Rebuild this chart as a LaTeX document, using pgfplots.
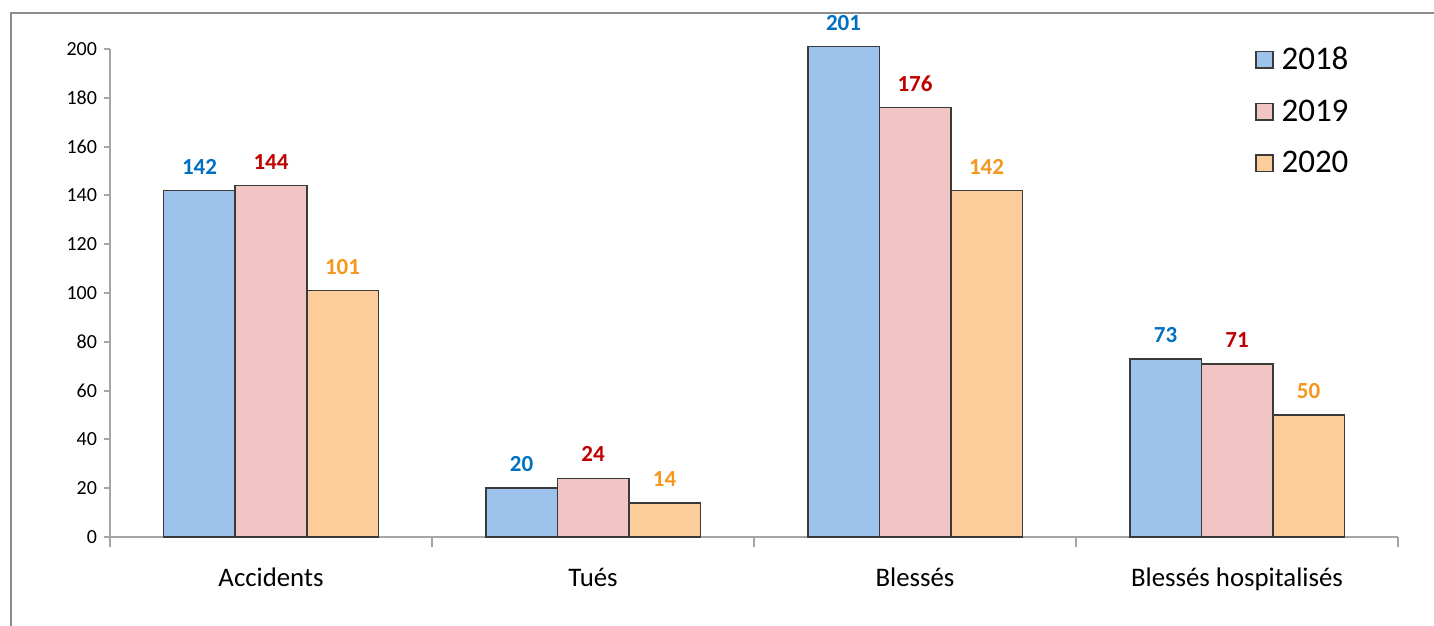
\documentclass[border=0pt]{standalone}
\usepackage{fontspec}
\setmainfont{Carlito}
\usepackage{pgfplots}
\pgfplotsset{compat=1.18}
\definecolor{b18}{HTML}{9DC3EC}
\definecolor{b19}{HTML}{F2C5C5}
\definecolor{b20}{HTML}{FDCC9B}
\definecolor{l18}{HTML}{0070C0}
\definecolor{l19}{HTML}{C00000}
\definecolor{l20}{HTML}{F5961F}
\definecolor{edge}{HTML}{3A3A3A}
\definecolor{axisgray}{HTML}{A6A6A6}
\definecolor{framegray}{HTML}{8C8C8C}
\pgfplotsset{
  sqlegend/.style={legend image code/.code={\draw[##1, line width=0.75pt] (0pt,-4.15pt) rectangle (8.3pt,4.15pt);}},
  lbl/.style={every node near coord/.append style={font=\bfseries\fontsize{11.5}{13}\selectfont, text=#1, anchor=center, yshift=12pt}},
}
\begin{document}
\begin{tikzpicture}
\useasboundingbox (-55pt,-44.5pt) rectangle (662pt,268.5pt);
\draw[color=framegray, line width=1pt] (-49.5pt,-60pt) -- (-49.5pt,262pt) -- (680pt,262pt);
\begin{axis}[
  at={(0pt,0pt)}, anchor=south west,
  scale only axis, width=644pt, height=244pt,
  xmin=-0.5, xmax=3.5, ymin=0, ymax=200,
  clip=false,
  ybar=0pt, bar width=35.75pt,
  axis x line*=bottom, axis y line*=left,
  axis line style={draw=axisgray, line width=1pt},
  tick align=outside,
  xtick={0,1,2,3},
  xticklabels={Accidents,Tués,Blessés,Blessés hospitalisés},
  minor xtick={-0.5,0.5,1.5,2.5,3.5},
  major x tick style={draw=none},
  minor x tick style={draw=axisgray, line width=1pt},
  minor tick length=5pt,
  ytick={0,20,...,200},
  y tick style={draw=axisgray, line width=1pt},
  major tick length=3pt,
  x tick label style={font=\fontsize{13.4}{16}\selectfont, yshift=-9pt},
  y tick label style={font=\fontsize{10}{12}\selectfont},
  /pgf/number format/assume math mode=true,
  legend style={at={(0.889,1.013)}, anchor=north west, draw=none, fill=none,
    font=\fontsize{16.5}{19}\selectfont, row sep=9.5pt, inner sep=0pt,
    nodes={inner xsep=4pt}},
  legend cell align=left,
]
\addplot[fill=b18, draw=edge, line width=0.75pt, sqlegend, nodes near coords, lbl=l18]
  coordinates {(0,142) (1,20) (2,201) (3,73)};
\addplot[fill=b19, draw=edge, line width=0.75pt, sqlegend, nodes near coords, lbl=l19]
  coordinates {(0,144) (1,24) (2,176) (3,71)};
\addplot[fill=b20, draw=edge, line width=0.75pt, sqlegend, nodes near coords, lbl=l20]
  coordinates {(0,101) (1,14) (2,142) (3,50)};
\legend{2018,2019,2020}
\end{axis}
\end{tikzpicture}
\end{document}
